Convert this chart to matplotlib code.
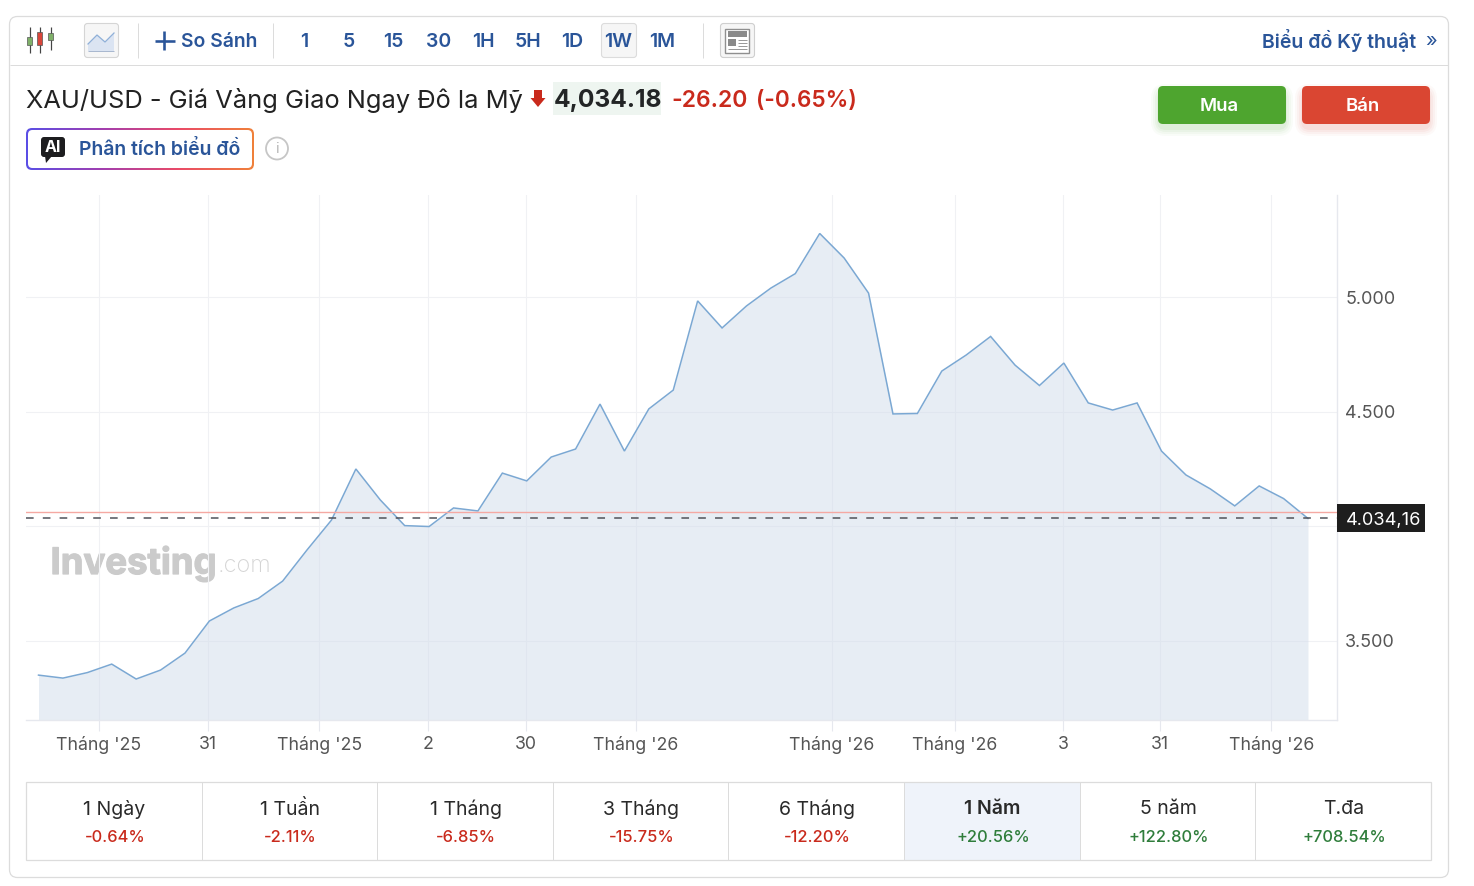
import numpy as np
import matplotlib
matplotlib.use("Agg")
import matplotlib.pyplot as plt
import matplotlib.patheffects as pe
from matplotlib.patches import FancyBboxPatch, Rectangle, Circle, Polygon
from matplotlib.colors import LinearSegmentedColormap

plt.rcParams['font.family'] = ['Inter', 'Noto Sans', 'DejaVu Sans']

# ---------- data ----------
prices = [3351, 3338, 3362, 3399, 3334, 3373, 3447, 3587, 3644, 3685, 3761, 3897, 4027, 4250,
          4115, 4003, 3999, 4080, 4067, 4232, 4198, 4302, 4337, 4533, 4328, 4512, 4594, 4983,
          4865, 4961, 5039, 5102, 5277, 5170, 5017, 4490, 4492, 4677, 4747, 4828, 4703, 4614,
          4712, 4538, 4507, 4538, 4328, 4224, 4163, 4089, 4176, 4121, 4034.16]
tick_pos = [2.48, 6.93, 11.5, 15.94, 19.95, 24.47, 32.5, 37.54, 41.97, 45.94, 50.5]
tick_labels = ["Tháng '25", "31", "Tháng '25", "2", "30", "Tháng '26", "Tháng '26",
               "Tháng '26", "3", "31", "Tháng '26"]
y_ticks = [3500, 4000, 4500, 5000]
y_labels = ["3.500", "", "4.500", "5.000"]
last_price = 4034.16
prev_close = 4060.36
periods = ["1 Ngày", "1 Tuần", "1 Tháng", "3 Tháng", "6 Tháng", "1 Năm", "5 năm", "T.đa"]
changes = ["-0.64%", "-2.11%", "-6.85%", "-15.75%", "-12.20%", "+20.56%", "+122.80%", "+708.54%"]
intervals = ["1", "5", "15", "30", "1H", "5H", "1D", "1W", "1M"]
interval_x = [304.5, 349, 393.5, 438.5, 483.5, 528.5, 572.5, 618, 662.5]

W, H = 1474, 886
BLUE = "#2a5599"
RED = "#c92a1c"
GREEN = "#2f7d3b"
BORDER = "#dcdcdc"

fig = plt.figure(figsize=(W / 100, H / 100), dpi=100, facecolor="white")

# page-pixel overlay used for the surrounding interface
ui = fig.add_axes([0, 0, 1, 1], zorder=1)
ui.set_xlim(0, W); ui.set_ylim(H, 0); ui.axis("off")


def rrect(x0, y0, x1, y1, r, fc="none", ec="none", lw=1, z=2, alpha=None):
    p = FancyBboxPatch((x0 + r, y0 + r), x1 - x0 - 2 * r, y1 - y0 - 2 * r,
                       boxstyle=f"round,pad={r},rounding_size={r}", fc=fc, ec=ec, lw=lw,
                       zorder=z, alpha=alpha, mutation_aspect=1)
    ui.add_patch(p)
    return p


def txt(x, y, s, px, color="#222", weight="normal", ha="center", z=5, **kw):
    return ui.text(x, y + 1.5, s, fontsize=px * 0.72, color=color, fontweight=weight, ha=ha,
                   va="center", zorder=z, **kw)


def hline(x0, x1, y, c=BORDER, lw=1.0, z=3):
    ui.plot([x0, x1], [y, y], color=c, lw=lw * 0.72, solid_capstyle="butt", zorder=z)


def vline(x, y0, y1, c=BORDER, lw=1.0, z=3):
    ui.plot([x, x], [y0, y1], color=c, lw=lw * 0.72, solid_capstyle="butt", zorder=z)


# outer panel
rrect(9.5, 16.5, 1448.5, 877.5, 8, fc="white", ec=BORDER, lw=0.9, z=1)
hline(10, 1448, 65)

# candlestick icon
for cx, y0, y1, by0, by1, col in [(30, 27, 53, 37, 45, "#7fb069"), (40, 27, 53, 32, 45, "#d9453a"),
                                  (51, 27, 50, 33, 40, "#7fb069")]:
    vline(cx, y0, y1, c="#444", lw=1.2)
    ui.add_patch(Rectangle((cx - 2.5, by0), 5, by1 - by0, fc=col, ec="#555", lw=0.5, zorder=4))

# line icon button
rrect(84.5, 23.5, 118.5, 57.5, 3, fc="#f6f6f6", ec="#d5d5d5", lw=0.8)
ui.add_patch(Polygon([(88, 44), (97, 35), (105, 42), (114, 33), (114, 51), (88, 51)],
                     fc="#dbe4f2", ec="none", zorder=4))
ui.plot([88, 97, 105, 114], [44, 35, 42, 33], color="#8fb0d8", lw=0.9, zorder=5)
hline(88, 114, 51, c="#a9b8cf", z=5)

vline(138.5, 23, 58)
vline(273.5, 23, 58)
vline(703.5, 23, 58)

# compare
hline(155, 175, 40.5, c=BLUE, lw=2.6)
vline(164.5, 31, 50, c=BLUE, lw=2.6)
txt(181, 40, "So Sánh", 19.3, BLUE, "semibold", ha="left")

# interval buttons
rrect(601.5, 23.5, 636.5, 57.5, 3, fc="#f6f6f6", ec="#dcdcdc", lw=0.8)
for x, s in zip(interval_x, intervals):
    txt(x, 40, s, 19.5, BLUE, "semibold")

# news icon button
rrect(720.5, 23.5, 754.5, 57.5, 3, fc="#f6f6f6", ec="#cfcfcf", lw=0.8)
ui.add_patch(Rectangle((725.5, 28.5), 24, 24, fc="white", ec="#8f8f8f", lw=1.0, zorder=4))
ui.add_patch(Rectangle((728, 31), 19, 5.5, fc="#8a8a8a", ec="none", zorder=5))
ui.add_patch(Rectangle((728, 39), 8, 7, fc="#8a8a8a", ec="none", zorder=5))
for yy in [39.5, 42.5, 45.5, 48.5]:
    hline(738 if yy < 47 else 728, 747, yy, c="#9a9a9a", z=5)

txt(1416, 39.5, "Biểu đồ Kỹ thuật", 19.5, BLUE, "semibold", ha="right")
txt(1431, 40, "»", 20, BLUE, "normal")

# instrument title
txt(26, 99, "XAU/USD - Giá Vàng Giao Ngay Đô la Mỹ", 25.4, "#222", "normal", ha="left")
ui.add_patch(Polygon([(534, 90), (542, 90), (542, 98), (545.5, 98), (538, 107), (530.5, 98), (534, 98)],
                     fc="#c92a1c", ec="none", zorder=5))
ui.add_patch(Rectangle((553, 82), 108, 33, fc="#eef5f0", ec="none", zorder=3))
txt(553.5, 99, "4,034.18", 24.6, "#232526", "bold", ha="left")
txt(671, 99, "-26.20", 23, RED, "semibold", ha="left")
txt(756, 99, "(-0.65%)", 22.6, RED, "semibold", ha="left")

# buy / sell
for x0, x1, col, label in [(1158, 1286, "#4ea52f", "Mua"), (1302, 1430, "#da4632", "Bán")]:
    for g, a in [(9, 0.03), (7, 0.04), (5, 0.05), (3, 0.06)]:
        rrect(x0 - g + 2, 86 + 5 - g + 2, x1 + g - 2, 124 + 5 + g - 2, 6 + g, fc=col, z=2, alpha=a)
    rrect(x0, 86, x1, 124, 5, fc=col, z=3)
    txt((x0 + x1) / 2 - 3, 104.5, label, 18.5, "white", "semibold")

# AI button with gradient border
grad = LinearSegmentedColormap.from_list("g", ["#5a4fe6", "#a23fb0", "#ea4a68", "#f0813a"])
im = ui.imshow(np.linspace(0, 1, 256).reshape(1, -1), extent=(26, 254, 170, 128), cmap=grad,
               aspect="auto", zorder=2, interpolation="bilinear")
clip = rrect(26, 128, 254, 170, 6, fc="none", z=2)
im.set_clip_path(clip)
ui.set_xlim(0, W); ui.set_ylim(H, 0)
rrect(28, 130, 252, 168, 4.5, fc="white", z=3)
rrect(41, 137, 65, 157, 3, fc="#1d1d1f", z=4)
ui.add_patch(Polygon([(45, 156), (52, 156), (46, 163)], fc="#1d1d1f", ec="none", zorder=4))
txt(53, 146, "AI", 16, "white", "bold")
txt(79, 148.5, "Phân tích biểu đồ", 19.4, BLUE, "semibold", ha="left")
ui.add_patch(Circle((277, 148.5), 11, fc="white", ec="#c6c6c6", lw=1.3, zorder=4))
txt(277, 147.5, "i", 15, "#b8b8b8", "normal")

# ---------- chart ----------
ax = fig.add_axes([26 / W, 1 - 720 / H, (1337 - 26) / W, (720 - 195) / H], zorder=2)
ax.patch.set_alpha(0)
ppu = 0.2293
ax.set_ylim(5000 - (720 - 297) / ppu, 5000 + (297 - 195) / ppu)
step = (1308 - 38.5) / (len(prices) - 1)
ax.set_xlim((26 - 38.5) / step, (1337 - 38.5) / step)
xs = np.arange(len(prices))

ax.set_xticks(tick_pos, tick_labels)
ax.set_yticks(y_ticks, y_labels)
ax.yaxis.tick_right()
ax.grid(True, color="#f0f1f4", lw=0.8, zorder=0)
ax.set_axisbelow(True)
ax.tick_params(axis="x", length=8, width=0.8, color="#e6e8ee", labelsize=17.7 * 0.72,
               labelcolor="#555", pad=3.5)
ax.tick_params(axis="y", length=0, labelsize=18 * 0.72, labelcolor="#555", pad=6)
for side in ["top", "left"]:
    ax.spines[side].set_visible(False)
for side in ["right", "bottom"]:
    ax.spines[side].set_color("#e6e8ee")
    ax.spines[side].set_linewidth(1.0)

ax.fill_between(xs, prices, ax.get_ylim()[0], color="#d1dceb", lw=0, zorder=1, alpha=0.5)
ax.plot(xs, prices, color="#7ba8d3", lw=1.1, zorder=3, solid_joinstyle="miter")
ax.axhline(prev_close, color="#f5a9a3", lw=1.0, zorder=3)
ax.plot([ax.get_xlim()[0], ax.get_xlim()[1]], [last_price, last_price], color="#50525a", lw=1.1,
        dashes=(5, 6), zorder=4)

# watermark
t = txt(50.5, 562, "Investing", 36.5, "#cbcbcb", "bold", ha="left", z=1.5)
t.set_path_effects([pe.withStroke(linewidth=0.9, foreground="#cbcbcb")])
txt(218, 565, ".com", 23.5, "#d4d4d4", "light", ha="left", z=1.5)

# last-price tag drawn above the chart
tag = fig.add_axes([0, 0, 1, 1], zorder=3)
tag.set_xlim(0, W); tag.set_ylim(H, 0); tag.axis("off")
tag.add_patch(Rectangle((1337, 504), 88, 28, fc="#1e1e1e", ec="none"))
tag.text(1383.5, 521, f"{last_price:,.2f}".replace(",", "X").replace(".", ",").replace("X", "."),
         color="white", fontsize=18.2 * 0.72, ha="center", va="center")

# ---------- period table ----------
x_left, x_right, y_top, y_bot = 26.5, 1431.5, 782, 860
cw = (x_right - x_left) / len(periods)
active = periods.index("1 Năm")
ui.add_patch(Rectangle((x_left + cw * active - 0.5, y_top), cw, y_bot - y_top, fc="#eff3fa", ec="none", zorder=2))
ui.add_patch(Rectangle((x_left, y_top), x_right - x_left, y_bot - y_top, fc="none", ec=BORDER, lw=0.9, zorder=3))
for i, (p, c) in enumerate(zip(periods, changes)):
    cx = x_left + cw * (i + 0.5)
    if i:
        vline(x_left + cw * i - 0.5, y_top, y_bot)
    txt(cx, 808, p, 19.5, "#2a2a2a", "semibold" if i == active else "normal")
    txt(cx + 0.5, 835.5, c, 16.5, RED if c[0] == "-" else GREEN, "medium")

fig.savefig("out.png", dpi=100, facecolor="white")
